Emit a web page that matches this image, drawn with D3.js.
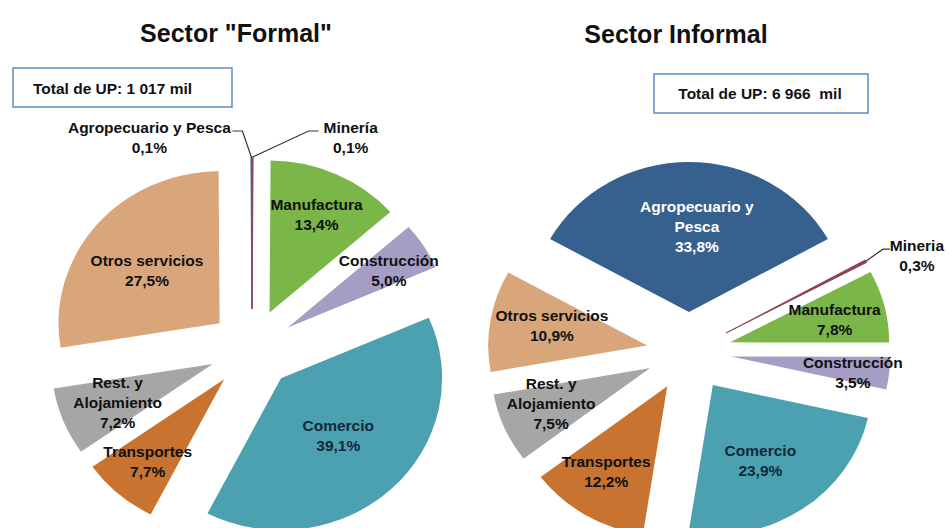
<!DOCTYPE html>
<html>
<head>
<meta charset="utf-8">
<script src="https://cdn.jsdelivr.net/npm/d3@7"></script>
<style>
  body{margin:0;background:#fff;}
  text{font-family:"Liberation Sans",Arial,sans-serif;font-weight:bold;white-space:pre;}
</style>
</head>
<body>
<svg id="chart" width="949" height="528"></svg>
<script>
// data, clockwise order of the slices
var categories = ["Agropecuario y Pesca","Minería","Manufactura","Construcción","Comercio","Transportes","Rest. y Alojamiento","Otros servicios"];
var formalValues   = [0.1, 0.1, 13.4, 5.0, 39.1, 7.7, 7.2, 27.5];
var informalValues = [33.8, 0.3, 7.8, 3.5, 23.9, 12.2, 7.5, 10.9];
var formalNames   = ["Agropecuario y Pesca","Minería","Manufactura","Construcción","Comercio","Transportes","Rest. y|Alojamiento","Otros servicios"];
var informalNames = ["Agropecuario y|Pesca","Mineria","Manufactura","Construcción","Comercio","Transportes","Rest. y|Alojamiento","Otros servicios"];
var titles = ["Sector \"Formal\"","Sector Informal"];
var totals = ["Total de UP: 1 017 mil","Total de UP: 6 966  mil"];

var colors = d3.scaleOrdinal()
  .domain(categories)
  .range(["#36618F","#8E3F58","#7AB648","#A59DC3","#4BA1AF","#C8732F","#A6A6A6","#D9A67C"]);
var textColors = {"Agropecuario y Pesca":"#fff","Comercio":"#13283d"};

var pct = function(v){ return d3.format(".1f")(v).replace(".",",")+"%"; };
var rad = Math.PI/180;

var svg = d3.select("#chart");

// layout of each pie
var charts = [
  {
    values: formalValues, names: formalNames,
    cx: 252, cy: 349, ry: 152, sx: 1.06, explode: 40,
    start: -formalValues[0]/d3.sum(formalValues)*360,
    labelR: [0, 0, 147, 151, 119, 150, 138, 126],
    labelA: [0, 0, 0, 1.2, 0, 0, -1, -2],
    leaders: {
      0: {elbow:[-9,-26], end:[-19,-26], tx:-83},
      1: {elbow:[56,-26], end:[66,-26], tx:32}
    },
    title: {x:236, y:42}, box: {x:13, y:68, w:219, h:39, tx:33, ty:94, anchor:"start"}
  },
  {
    values: informalValues, names: informalNames,
    cx: 689, cy: 352, ry: 150, sx: 1.06, explode: 40,
    start: -informalValues[0]/d3.sum(informalValues)*180,
    labelR: [125, 0, 141, 156, 128, 143, 140, 132],
    labelA: [3.4, 0, 1, 1.4, 2.5, 2.3, 2, 2],
    leaders: {
      1: {elbow:[17,-12], end:[24,-12], tx:27}
    },
    title: {x:676, y:43}, box: {x:654, y:74, w:214, h:39, tx:760, ty:99, anchor:"middle"}
  }
];

charts.forEach(function(c, ci){
  // title
  svg.append("text")
    .attr("x", c.title.x).attr("y", c.title.y)
    .attr("text-anchor","middle")
    .attr("font-size","25px")
    .attr("fill","#111")
    .text(titles[ci]);

  // total box
  svg.append("rect")
    .attr("x", c.box.x).attr("y", c.box.y)
    .attr("width", c.box.w).attr("height", c.box.h)
    .attr("fill","#fff").attr("stroke","#5B8DC4").attr("stroke-width",1.5);
  svg.append("text")
    .attr("x", c.box.tx).attr("y", c.box.ty)
    .attr("text-anchor", c.box.anchor)
    .attr("font-size","15.5px").attr("fill","#111")
    .text(totals[ci]);

  var pie = d3.pie().sort(null)
    .startAngle(c.start*rad)
    .endAngle(c.start*rad + 2*Math.PI);
  var arcs = pie(c.values);
  var arc = d3.arc().innerRadius(0).outerRadius(c.ry);

  // polar point (angle from 12 o'clock, clockwise), x stretched by sx
  var pt = function(a, r){
    return [c.cx + c.sx*r*Math.sin(a), c.cy - r*Math.cos(a)];
  };

  var g = svg.append("g")
    .attr("transform","translate("+c.cx+","+c.cy+") scale("+c.sx+",1)");

  g.selectAll("path")
    .data(arcs)
    .enter()
    .append("path")
      .attr("d", arc)
      .attr("transform", function(d){
        var m = (d.startAngle+d.endAngle)/2;
        return "translate("+(c.explode*Math.sin(m))+","+(-c.explode*Math.cos(m))+")";
      })
      .attr("fill", function(d,i){ return colors(categories[i]); })
      .attr("stroke", function(d,i){ return colors(categories[i]); })
      .attr("stroke-width", function(d){ return (d.endAngle-d.startAngle) < 0.05 ? 0.8 : 0; });

  // labels
  arcs.forEach(function(d, i){
    var m = (d.startAngle+d.endAngle)/2;
    var lines = c.names[i].split("|").concat([pct(c.values[i])]);
    var lx, first;
    var ld = c.leaders[i];
    if (ld) {
      var o = pt(m, c.explode + c.ry);
      var e1 = [o[0]+ld.elbow[0], o[1]+ld.elbow[1]];
      var e2 = [o[0]+ld.end[0], o[1]+ld.end[1]];
      svg.append("path")
        .attr("d", d3.line()([o, e1, e2]))
        .attr("fill","none")
        .attr("stroke","#333")
        .attr("stroke-width", 1.2);
      lx = e2[0] + ld.tx;
      first = e2[1] + 2;
    } else {
      var p = pt(m + c.labelA[i]*rad, c.labelR[i]);
      lx = p[0];
      first = p[1] - (lines.length-1)*10 + 5;
    }
    var t = svg.append("text")
      .attr("text-anchor","middle")
      .attr("font-size","15.5px")
      .attr("fill", ld ? "#111" : (textColors[categories[i]] || "#111"));
    lines.forEach(function(s, k){
      t.append("tspan").attr("x", lx).attr("y", first + k*20).text(s);
    });
  });
});
</script>
</body>
</html>
